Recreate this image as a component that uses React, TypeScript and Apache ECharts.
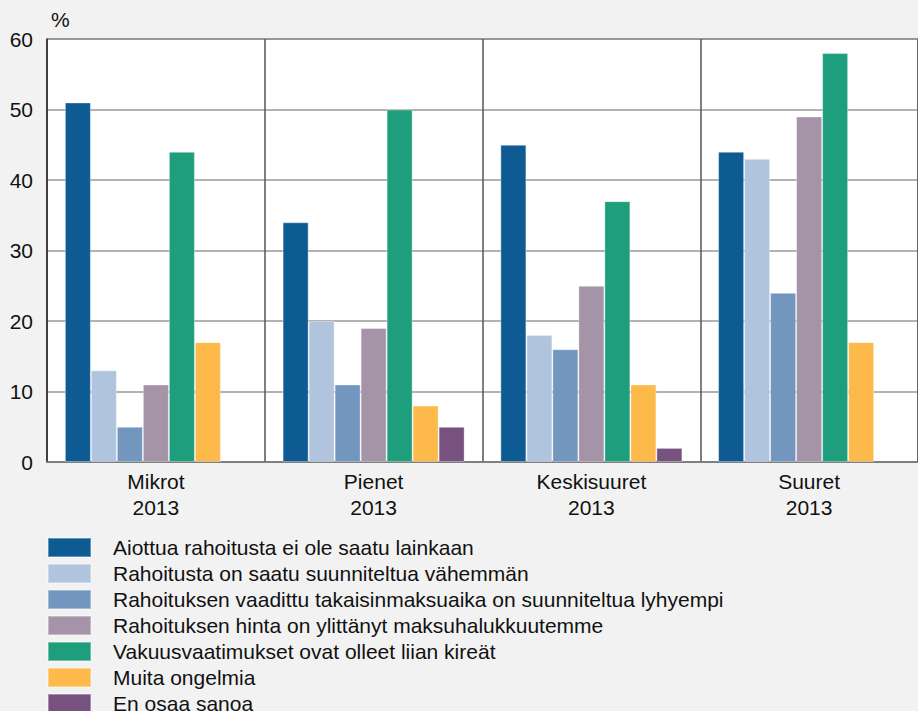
import React, { useEffect, useRef } from "react";
import * as echarts from "echarts";

const categories = ["Mikrot\n2013", "Pienet\n2013", "Keskisuuret\n2013", "Suuret\n2013"];
const seriesNames = [
  "Aiottua rahoitusta ei ole saatu lainkaan",
  "Rahoitusta on saatu suunniteltua vähemmän",
  "Rahoituksen vaadittu takaisinmaksuaika on suunniteltua lyhyempi",
  "Rahoituksen hinta on ylittänyt maksuhalukkuutemme",
  "Vakuusvaatimukset ovat olleet liian kireät",
  "Muita ongelmia",
  "En osaa sanoa",
];
const s1 = [51, 34, 45, 44];
const s2 = [13, 20, 18, 43];
const s3 = [5, 11, 16, 24];
const s4 = [11, 19, 25, 49];
const s5 = [44, 50, 37, 58];
const s6 = [17, 8, 11, 17];
const s7 = [null, 5, 2, null];
const seriesValues = [s1, s2, s3, s4, s5, s6, s7];
const colors = ["#0e5a93", "#b0c4de", "#7396be", "#a593a7", "#1f9e7e", "#fdb94a", "#77527f"];

export default function App() {
  const ref = useRef<HTMLDivElement>(null);
  useEffect(() => {
    const chart = echarts.init(ref.current!, null, { renderer: "svg" });
    const font = "'Liberation Sans', Arial, sans-serif";
    chart.setOption({
      animation: false,
      backgroundColor: "#f2f2f2",
      textStyle: { fontFamily: font },
      grid: {
        left: 47,
        right: -9,
        top: 39,
        height: 423,
        show: true,
        backgroundColor: "#ffffff",
        borderColor: "#333333",
        borderWidth: 1,
      },
      graphic: [
        {
          type: "text",
          left: 51,
          top: 9,
          style: { text: "%", fontSize: 21, fill: "#111", fontFamily: font },
        },
      ],
      legend: {
        orient: "vertical",
        left: 47,
        top: 537,
        height: 300,
        padding: 0,
        itemWidth: 43,
        itemHeight: 19,
        itemGap: 5,
        icon: "rect",
        data: seriesNames,
        textStyle: {
          fontSize: 21,
          lineHeight: 19,
          color: "#111",
          fontFamily: font,
          padding: [0, 0, 0, 17],
        },
      },
      xAxis: {
        type: "category",
        data: categories,
        axisLine: { show: true, lineStyle: { color: "#777", width: 1.5 } },
        axisTick: { show: false },
        splitLine: { show: true, lineStyle: { color: "#555", width: 1.5 } },
        axisLabel: { fontSize: 21, color: "#111", lineHeight: 26, margin: 6, fontFamily: font },
      },
      yAxis: {
        type: "value",
        min: 0,
        max: 60,
        interval: 10,
        axisLine: { show: true, lineStyle: { color: "#333", width: 1.5 } },
        axisTick: { show: false },
        splitLine: { show: true, lineStyle: { color: "#999", width: 1.5 } },
        axisLabel: { fontSize: 21, color: "#111", margin: 14, fontFamily: font },
      },
      series: seriesNames.map((name, i) => ({
        name,
        type: "bar",
        data: seriesValues[i],
        barWidth: 26,
        barGap: "0%",
        itemStyle: { color: colors[i], borderColor: "rgba(255,255,255,0.35)", borderWidth: 1 },
      })),
    });
    return () => chart.dispose();
  }, []);
  return (
    <div
      ref={ref}
      style={{ position: "absolute", left: 0, top: 0, width: 918, height: 711 }}
    />
  );
}
